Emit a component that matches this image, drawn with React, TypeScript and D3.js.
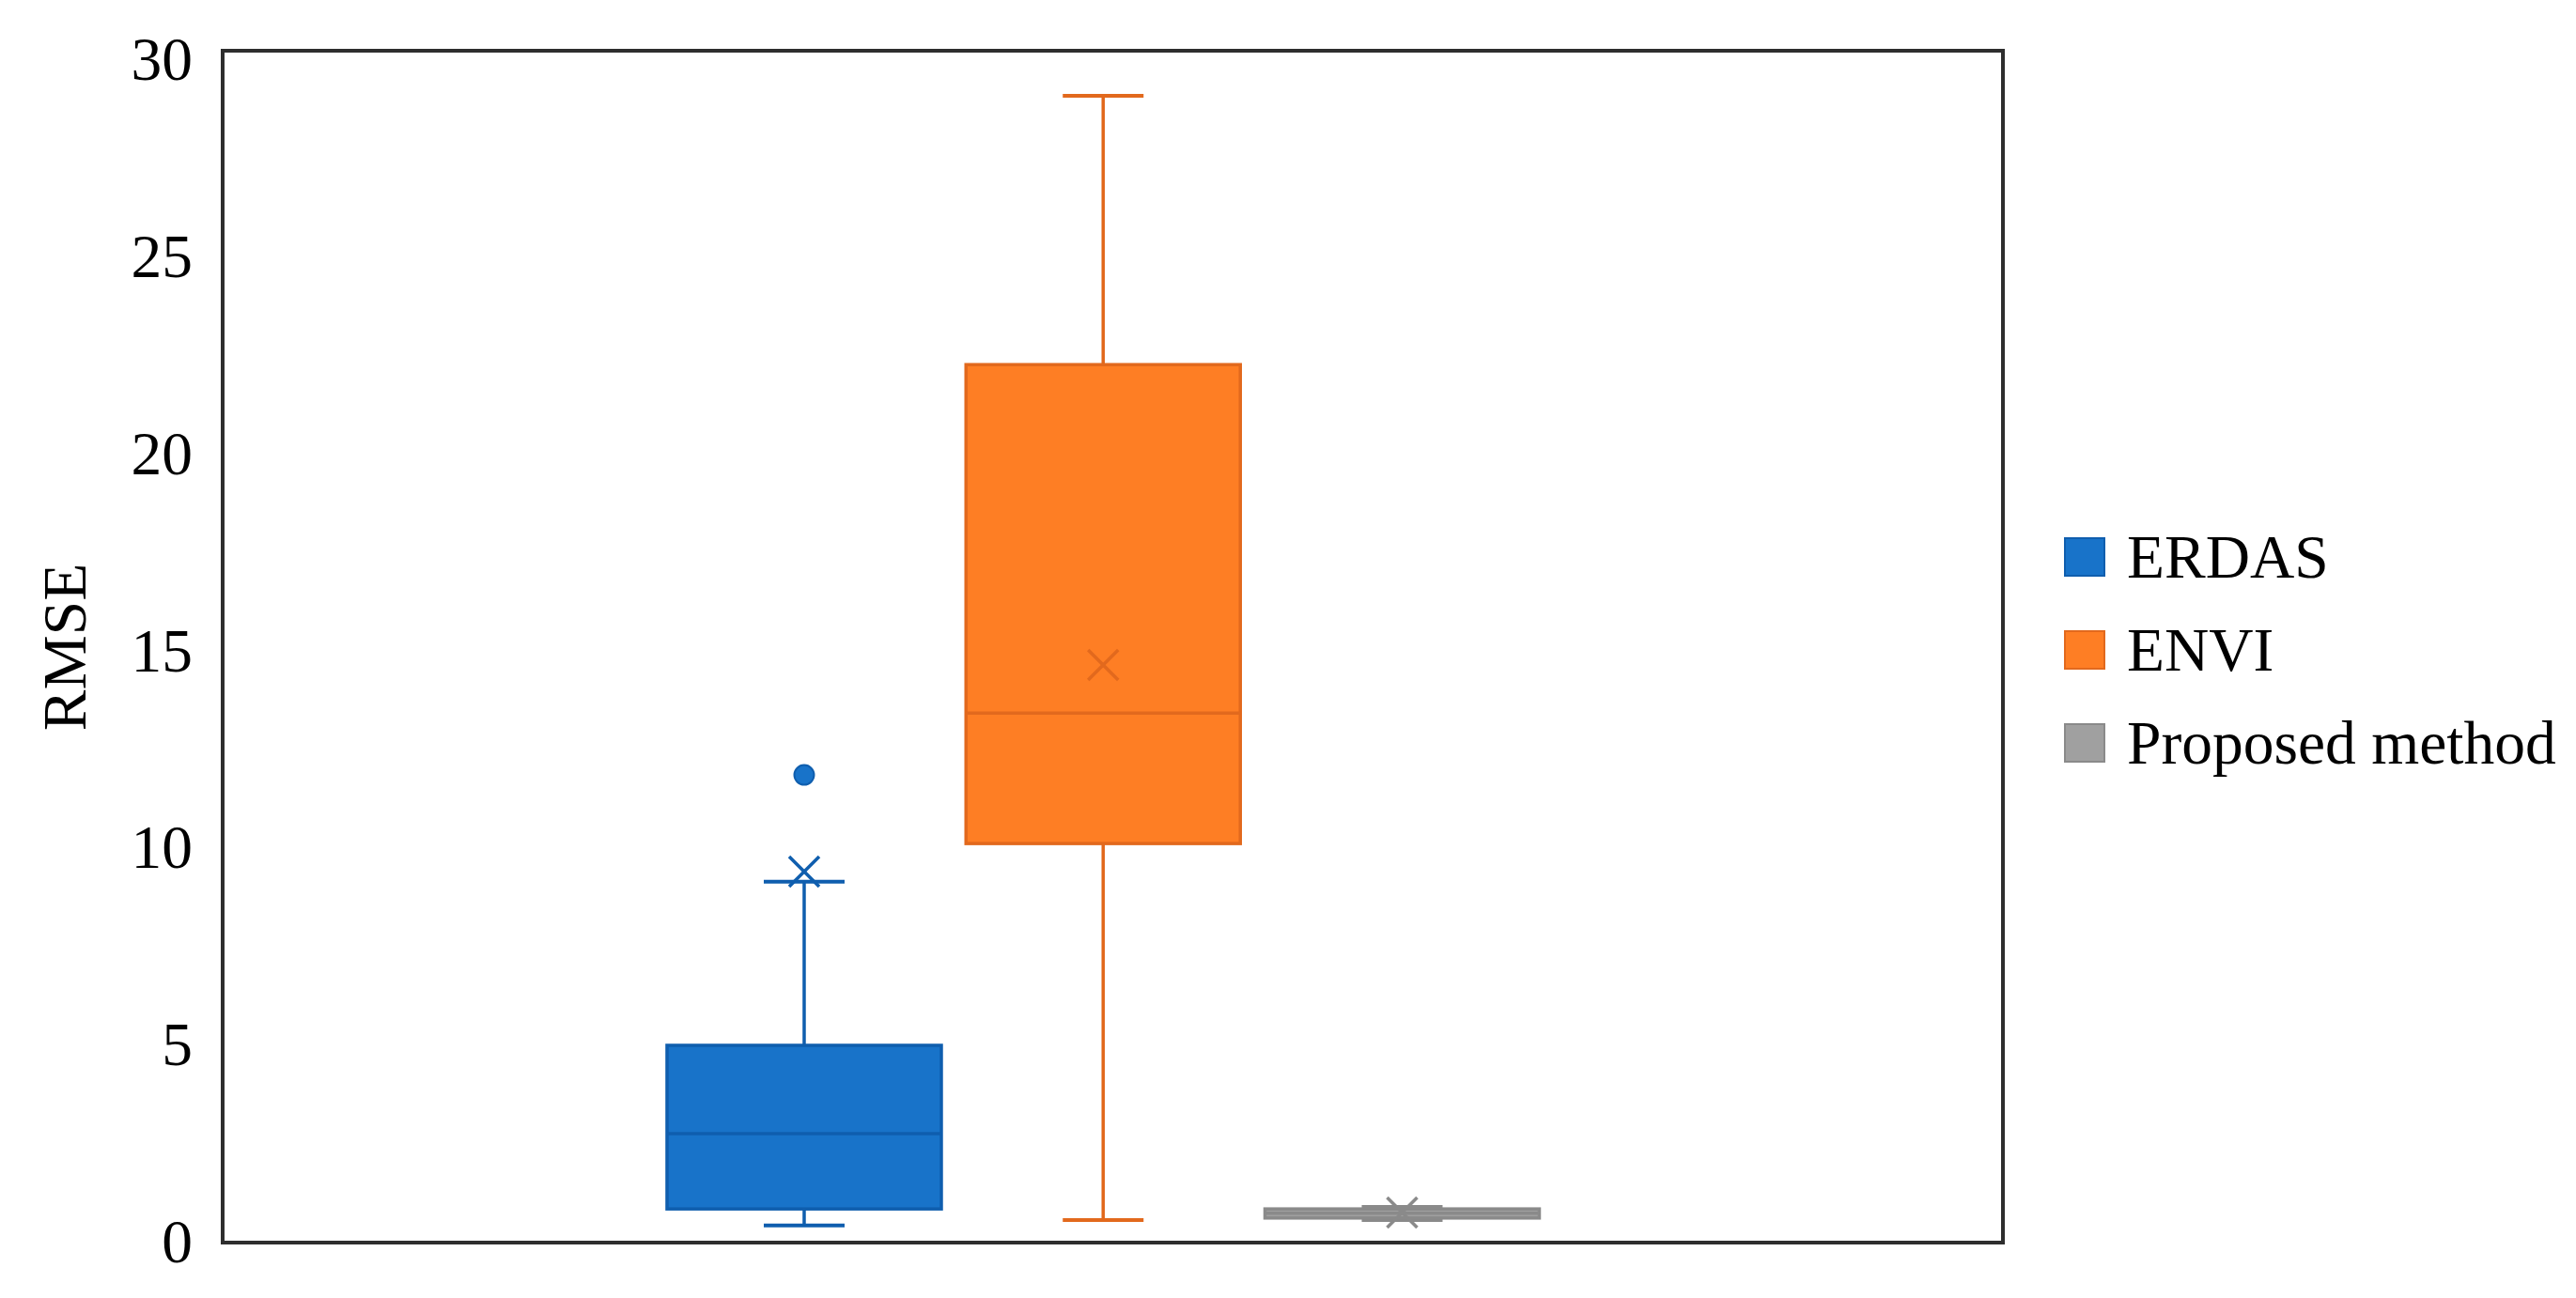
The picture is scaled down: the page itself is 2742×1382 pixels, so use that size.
import React from "react";
import * as d3 from "d3";

const seriesNames = ["ERDAS", "ENVI", "Proposed method"];
const fillColors = ["#1873C9", "#FE7E24", "#A0A0A0"];
const strokeColors = ["#0F5EAE", "#E2691D", "#8A8A8A"];
const q1Values = [0.83, 10.1, 0.6];
const medianValues = [2.74, 13.41, 0.72];
const q3Values = [4.98, 22.25, 0.83];
const minValues = [0.41, 0.55, 0.55];
const maxValues = [9.13, 29.07, 0.88];
const meanValues = [9.39, 14.63, 0.74];
const outlierValues = [[11.84], [], []];
const yTicks = [0, 5, 10, 15, 20, 25, 30];
const yLabel = "RMSE";

const W = 2742;
const H = 1382;
const frame = { left: 237, right: 2132, top: 54, bottom: 1323 };
const FONT = "'Liberation Serif', 'Times New Roman', serif";
const FS = 65.5;

export default function App() {
  const y = d3.scaleLinear().domain([0, 30]).range([1322, 63]);
  const x = d3.scalePoint<string>().domain(seriesNames).range([856, 1492.5]);
  const boxW = 292;
  const capW = 86;
  const xs = 16;

  return (
    <svg width={W} height={H} style={{ position: "absolute", left: 0, top: 0, background: "#fff" }}>
      <rect x={0} y={0} width={W} height={H} fill="#fff" />
      {yTicks.map((t) => (
        <text key={t} x={205} y={y(t) + 22} textAnchor="end" fontFamily={FONT} fontSize={FS} fill="#000">
          {t}
        </text>
      ))}
      <text
        transform={`translate(91,689) rotate(-90)`}
        textAnchor="middle"
        fontFamily={FONT}
        fontSize={FS}
        fill="#000"
      >
        {yLabel}
      </text>
      {seriesNames.map((s, i) => {
        const cx = x(s)!;
        const sc = strokeColors[i];
        const top = y(q3Values[i]);
        const bot = y(q1Values[i]);
        return (
          <g key={s}>
            <line x1={cx} x2={cx} y1={y(maxValues[i])} y2={top} stroke={sc} strokeWidth={3.5} />
            <line x1={cx} x2={cx} y1={bot} y2={y(minValues[i])} stroke={sc} strokeWidth={3.5} />
            <line x1={cx - capW / 2} x2={cx + capW / 2} y1={y(maxValues[i])} y2={y(maxValues[i])} stroke={sc} strokeWidth={4} />
            <line x1={cx - capW / 2} x2={cx + capW / 2} y1={y(minValues[i])} y2={y(minValues[i])} stroke={sc} strokeWidth={4} />
            <rect
              x={cx - boxW / 2}
              y={top}
              width={boxW}
              height={Math.max(bot - top, 1)}
              fill={fillColors[i]}
              stroke={sc}
              strokeWidth={3.5}
            />
            <line
              x1={cx - boxW / 2}
              x2={cx + boxW / 2}
              y1={y(medianValues[i])}
              y2={y(medianValues[i])}
              stroke={sc}
              strokeWidth={3.5}
            />
            <g stroke={sc} strokeWidth={3.5}>
              <line x1={cx - xs} x2={cx + xs} y1={y(meanValues[i]) - xs} y2={y(meanValues[i]) + xs} />
              <line x1={cx - xs} x2={cx + xs} y1={y(meanValues[i]) + xs} y2={y(meanValues[i]) - xs} />
            </g>
            {outlierValues[i].map((v, j) => (
              <circle key={j} cx={cx} cy={y(v)} r={10.5} fill={fillColors[i]} stroke={sc} strokeWidth={2} />
            ))}
          </g>
        );
      })}
      <rect
        x={frame.left}
        y={frame.top}
        width={frame.right - frame.left}
        height={frame.bottom - frame.top}
        fill="none"
        stroke="#2e2e2e"
        strokeWidth={4}
      />
      {seriesNames.map((s, i) => {
        const cy = 593 + i * 99;
        return (
          <g key={s}>
            <rect x={2198} y={cy - 20} width={42} height={40} fill={fillColors[i]} stroke={strokeColors[i]} strokeWidth={2} />
            <text x={2264} y={cy + 22} fontFamily={FONT} fontSize={FS} fill="#000">
              {s}
            </text>
          </g>
        );
      })}
    </svg>
  );
}
